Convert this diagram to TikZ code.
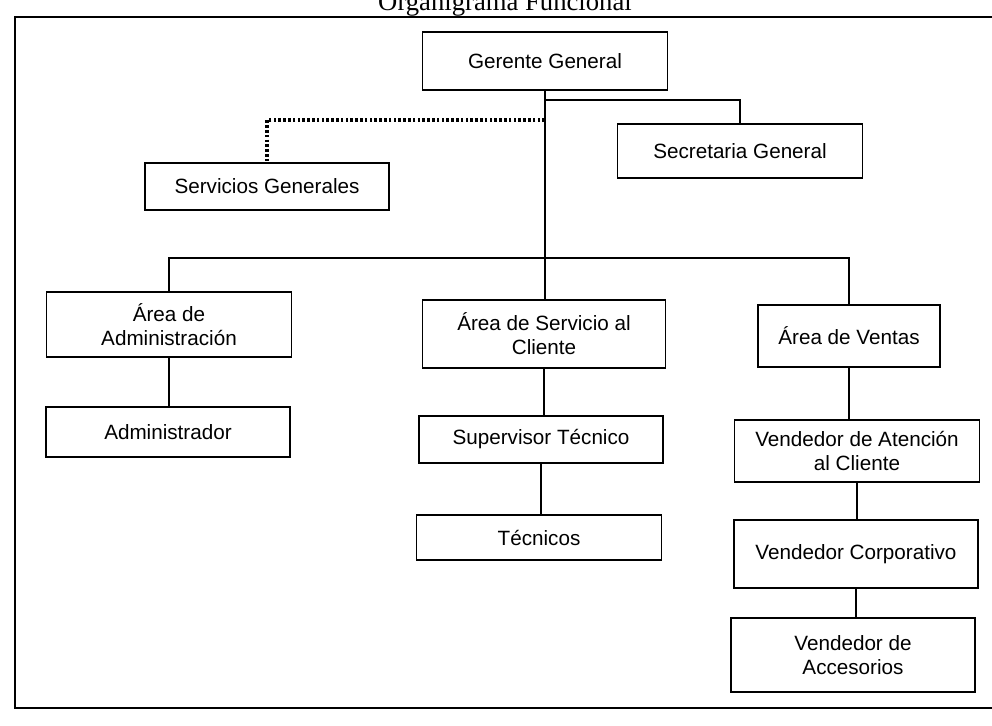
\documentclass[tikz,border=0pt]{standalone}
\usepackage{fontspec}
\setmainfont{Liberation Serif}
\newfontfamily\boxfont{Liberation Sans}
\begin{document}
\begin{tikzpicture}[x=0.75pt,y=-0.75pt,
  box/.style={draw, line width=1.35pt, align=center, inner sep=0pt, fill=white,
    font=\boxfont\fontsize{15.5}{18}\selectfont},
  conn/.style={line width=1.35pt},
  dots/.style={line width=2.6pt, dash pattern=on 2pt off 1.6pt},
  frame/.style={line width=1.5pt}]
\useasboundingbox (0,0) rectangle (992,725);
\clip (0,0) rectangle (992,725);
% title (partly cut off by the top edge, as in the scan)
\node[font=\fontsize{20}{24}\selectfont, anchor=base, inner sep=0pt] (title) at (505,10) {Organigrama Funcional};
% outer frame
\coordinate (fTR) at (1005,17);
\coordinate (fTL) at (15,17);
\coordinate (fBL) at (15,708);
\coordinate (fBR) at (1005,708);
\draw[frame] (fTR) -- (fTL) -- (fBL) -- (fBR);
% boxes
\node[box, minimum width=183.75pt, minimum height=43.5pt] (gg) at (545,61) {Gerente General};
\node[box, minimum width=183.75pt, minimum height=40.5pt] (sec) at (740,151) {Secretaria General};
\node[box, minimum width=183pt, minimum height=35.25pt] (ser) at (267,186.5) {Servicios Generales};
\node[box, minimum width=183.75pt, minimum height=48.75pt] (adm) at (169,324.5) {Área de\\Administración};
\node[box, minimum width=183pt, minimum height=37.5pt] (admr) at (168,432) {Administrador};
\node[box, minimum width=182.25pt, minimum height=51pt] (asc) at (544,334) {Área de Servicio al\\Cliente};
\node[box, minimum width=183pt, minimum height=35.25pt] (sup) at (541,439.5) {Supervisor Técnico};
\node[box, minimum width=183.75pt, minimum height=33.75pt] (tec) at (539,537.5) {Técnicos};
\node[box, minimum width=136.5pt, minimum height=46.5pt] (ven) at (849,336) {Área de Ventas};
\node[box, minimum width=183.75pt, minimum height=46.5pt] (vac) at (857,451) {Vendedor de Atención\\al Cliente};
\node[box, minimum width=183pt, minimum height=51pt] (vco) at (856,554) {Vendedor Corporativo};
\node[box, minimum width=183pt, minimum height=55.5pt] (vda) at (853,655) {Vendedor de\\Accesorios};
% connector points
\coordinate (bus) at (545,258);
\coordinate (secJ) at (545,100);
\coordinate (serJ) at (545,120);
% connectors
\draw[conn] (gg.south) -- (bus);
\draw[conn] (secJ) -| (sec.north);
\draw[dots] (serJ) -| (ser.north);
\draw[conn] (adm.north) |- (bus) -| (ven.north);
\draw[conn] (bus) -- (asc.north -| bus);
\draw[conn] (adm.south) -- (adm.south |- admr.north);
\draw[conn] (asc.south) -- (asc.south |- sup.north);
\draw[conn] (sup.south) -- (sup.south |- tec.north);
\draw[conn] (ven.south) -- (ven.south |- vac.north);
\draw[conn] (vac.south) -- (vac.south |- vco.north);
\draw[conn] (vco.south) -- (vco.south |- vda.north);
\end{tikzpicture}
\end{document}
